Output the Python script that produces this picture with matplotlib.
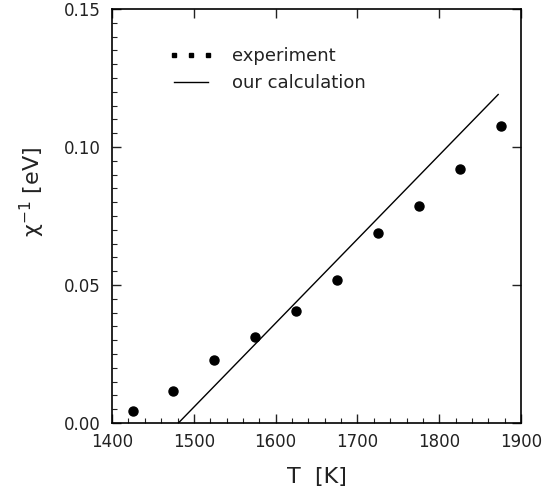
import matplotlib
matplotlib.use('Agg')
import matplotlib.pyplot as plt
from matplotlib.lines import Line2D
from matplotlib.ticker import MultipleLocator, FormatStrFormatter

# experiment
temp_exp = [1425, 1475, 1525, 1575, 1625, 1675, 1725, 1775, 1825, 1875]
chi_inv_exp = [0.0045, 0.0115, 0.023, 0.031, 0.0405, 0.052, 0.069, 0.0785, 0.092, 0.1075]

# our calculation (straight line)
temp_calc = [1481, 1872]
chi_inv_calc = [0.0, 0.119]

plt.rcParams['font.family'] = ['DejaVu Sans']
plt.rcParams['mathtext.fontset'] = 'dejavusans'

fig = plt.figure(figsize=(5.52, 4.96), dpi=100)
ax = fig.add_axes([0.203, 0.147, 0.741, 0.835])

ax.plot(temp_calc, chi_inv_calc, color='black', lw=1.0)
ax.plot(temp_exp, chi_inv_exp, 'o', color='black', ms=6.5, mec='black')

ax.set_xlim(1400, 1900)
ax.set_ylim(0, 0.15)
ax.xaxis.set_major_locator(MultipleLocator(100))
ax.xaxis.set_minor_locator(MultipleLocator(20))
ax.yaxis.set_major_locator(MultipleLocator(0.05))
ax.yaxis.set_minor_locator(MultipleLocator(0.005))
ax.yaxis.set_major_formatter(FormatStrFormatter('%.2f'))

ax.tick_params(which='both', direction='in', labelsize=12, colors='#222222')
ax.tick_params(which='major', length=6.5, width=1, top=True, right=True)
ax.tick_params(which='minor', length=3.6, width=0.8)
ax.tick_params(axis='x', pad=7)
ax.tick_params(axis='y', pad=8)
for s in ax.spines.values():
    s.set_linewidth(1.2)

ax.set_xlabel('T  [K]', fontsize=16, color='#222222')
ax.set_ylabel('χ$^{-1}$ [eV]', fontsize=16, color='#222222')
ax.xaxis.set_label_coords(0.5, -0.106)
ax.yaxis.set_label_coords(-0.159, 0.558)

dots = Line2D([0, 1, 2], [0, 0, 0], ls='none', marker='s', ms=3, color='black')
calc_line = Line2D([0], [0], color='black', lw=1.0)
leg = ax.legend([dots, calc_line], ['experiment', 'our calculation'],
                loc='upper left', bbox_to_anchor=(0.137, 0.908), frameon=False,
                fontsize=13, handlelength=2.5, handletextpad=1.05,
                numpoints=3, labelspacing=0.5, borderpad=0, borderaxespad=0)
for t in leg.get_texts():
    t.set_color('#222222')

fig.savefig('out.png', dpi=100)
